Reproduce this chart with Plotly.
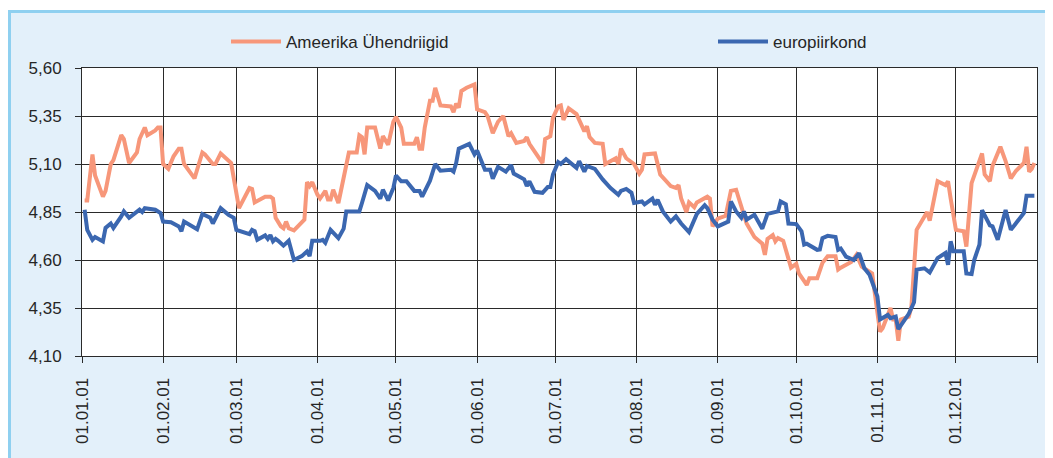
import pandas as pd
import plotly.graph_objects as go

# ---------------- data ----------------
start_date = "2001-01-01"

usa_days = [1, 2, 4, 5, 8, 9, 11, 12, 15, 16, 18, 20, 21, 22, 24, 25, 27, 28, 29, 30,
            31, 33, 35, 37, 38, 39, 43, 44, 46, 47, 50, 51, 53, 57, 58, 60, 64, 65, 66, 70,
            72, 73, 74, 76, 77, 78, 79, 81, 85, 86, 87, 88, 90, 91, 93, 94, 95, 96, 98, 101,
            102, 105, 106, 107, 108, 109, 112, 114, 115, 117, 119, 120, 122, 123, 127, 128, 129, 130, 131, 133,
            134, 135, 137, 141, 142, 143, 144, 145, 147, 150, 151, 154, 155, 157, 159, 161, 163, 164, 166, 169,
            170, 171, 173, 176, 177, 179, 180, 182, 183, 184, 186, 189, 192, 193, 194, 196, 199, 200, 204, 205,
            206, 208, 211, 213, 214, 215, 219, 221, 225, 227, 228, 229, 231, 232, 234, 235, 239, 240, 241, 243,
            246, 248, 250, 253, 254, 257, 260, 261, 262, 264, 265, 266, 268, 271, 273, 274, 277, 278, 281, 283,
            285, 288, 289, 290, 294, 296, 298, 302, 303, 305, 306, 309, 310, 311, 312, 313, 316, 317, 319, 323,
            324, 327, 330, 331, 332, 334, 337, 338, 340, 344, 345, 347, 348, 351, 353, 355, 357, 360, 361, 362,
            363, 364]
usa_values = [4.91, 4.91, 5.15, 5.04, 4.93, 4.96, 5.10, 5.12, 5.25, 5.23, 5.105, 5.14, 5.16, 5.23, 5.29, 5.25, 5.265, 5.275, 5.29, 5.29,
              5.10, 5.075, 5.14, 5.18, 5.18, 5.10, 5.025, 5.07, 5.16, 5.15, 5.10, 5.10, 5.155, 5.105, 5.03, 4.87, 4.975, 4.97, 4.90, 4.93,
              4.93, 4.92, 4.82, 4.775, 4.765, 4.80, 4.765, 4.754, 4.81, 5.005, 4.985, 5.005, 4.94, 4.92, 4.96, 4.915, 4.915, 4.966, 4.897, 5.105,
              5.16, 5.16, 5.25, 5.24, 5.15, 5.29, 5.29, 5.18, 5.245, 5.20, 5.32, 5.345, 5.29, 5.205, 5.205, 5.24, 5.18, 5.18, 5.29, 5.43,
              5.43, 5.497, 5.405, 5.40, 5.37, 5.414, 5.393, 5.48, 5.497, 5.515, 5.385, 5.37, 5.35, 5.26, 5.32, 5.35, 5.245, 5.26, 5.21, 5.22,
              5.24, 5.205, 5.165, 5.105, 5.23, 5.245, 5.34, 5.40, 5.405, 5.33, 5.39, 5.36, 5.27, 5.297, 5.24, 5.21, 5.205, 5.10, 5.13, 5.10,
              5.18, 5.13, 5.10, 5.05, 5.07, 5.15, 5.155, 5.045, 4.985, 4.975, 4.99, 4.92, 4.85, 4.90, 4.875, 4.90, 4.93, 4.92, 4.775, 4.815,
              4.83, 4.96, 4.966, 4.835, 4.79, 4.72, 4.685, 4.627, 4.71, 4.73, 4.697, 4.714, 4.70, 4.56, 4.58, 4.53, 4.47, 4.505, 4.505, 4.585,
              4.62, 4.62, 4.55, 4.56, 4.59, 4.627, 4.565, 4.53, 4.427, 4.227, 4.245, 4.35, 4.29, 4.29, 4.18, 4.29, 4.305, 4.357, 4.757, 4.85,
              4.805, 5.01, 4.99, 5.01, 4.92, 4.757, 4.75, 4.67, 5.00, 5.155, 5.045, 5.01, 5.09, 5.19, 5.115, 5.025, 5.065, 5.105, 5.19, 5.06,
              5.075, 5.105]

euro_days = [1, 2, 4, 5, 8, 9, 11, 12, 15, 16, 18, 22, 23, 24, 28, 30, 31, 34, 37, 38,
             39, 43, 44, 46, 49, 50, 53, 56, 58, 59, 61, 64, 65, 66, 67, 70, 71, 72, 73, 74,
             75, 77, 79, 81, 84, 86, 87, 88, 91, 92, 93, 95, 98, 100, 101, 106, 107, 109, 112, 114,
             115, 116, 117, 119, 120, 122, 124, 127, 129, 130, 133, 135, 137, 141, 142, 143, 144, 148, 150, 151,
             154, 156, 157, 159, 162, 164, 165, 169, 170, 171, 173, 176, 178, 179, 180, 182, 183, 185, 187, 189,
             190, 192, 193, 196, 199, 202, 205, 206, 208, 210, 211, 214, 215, 218, 219, 220, 222, 225, 227, 229,
             232, 235, 238, 239, 241, 243, 247, 248, 250, 252, 253, 254, 257, 260, 262, 266, 267, 269, 270, 273,
             275, 276, 277, 281, 282, 283, 285, 288, 289, 290, 292, 295, 297, 299, 301, 303, 304, 305, 308, 309,
             311, 312, 316, 318, 319, 322, 324, 327, 330, 331, 332, 333, 337, 338, 340, 341, 343, 344, 347, 348,
             350, 353, 355, 360, 361, 364]
euro_values = [4.862, 4.757, 4.705, 4.72, 4.697, 4.767, 4.79, 4.767, 4.827, 4.853, 4.82, 4.862, 4.85, 4.87, 4.862, 4.845, 4.80, 4.797, 4.775, 4.75,
               4.80, 4.763, 4.76, 4.84, 4.82, 4.79, 4.87, 4.835, 4.82, 4.757, 4.75, 4.735, 4.757, 4.75, 4.705, 4.728, 4.71, 4.73, 4.697, 4.71,
               4.70, 4.675, 4.70, 4.60, 4.62, 4.645, 4.62, 4.70, 4.70, 4.705, 4.69, 4.757, 4.714, 4.763, 4.853, 4.853, 4.897, 4.99, 4.96, 4.92,
               4.966, 4.94, 4.91, 4.975, 5.04, 5.01, 5.01, 4.96, 4.96, 4.93, 5.013, 5.10, 5.065, 5.07, 5.06, 5.105, 5.18, 5.205, 5.15, 5.17,
               5.07, 5.07, 5.024, 5.085, 5.06, 5.095, 5.05, 5.02, 4.985, 5.01, 4.955, 4.95, 4.98, 4.98, 5.045, 5.11, 5.10, 5.125, 5.10, 5.08,
               5.115, 5.06, 5.09, 5.075, 5.02, 4.975, 4.94, 4.96, 4.97, 4.95, 4.897, 4.905, 4.89, 4.92, 4.888, 4.914, 4.853, 4.80, 4.827, 4.79,
               4.745, 4.84, 4.885, 4.87, 4.81, 4.775, 4.80, 4.905, 4.853, 4.82, 4.853, 4.81, 4.835, 4.763, 4.84, 4.853, 4.905, 4.89, 4.79, 4.787,
               4.75, 4.68, 4.685, 4.653, 4.655, 4.714, 4.726, 4.72, 4.653, 4.66, 4.618, 4.60, 4.636, 4.557, 4.523, 4.453, 4.41, 4.29, 4.314, 4.297,
               4.305, 4.24, 4.32, 4.38, 4.55, 4.557, 4.535, 4.61, 4.636, 4.575, 4.697, 4.645, 4.645, 4.53, 4.527, 4.60, 4.68, 4.86, 4.78, 4.775,
               4.705, 4.86, 4.757, 4.845, 4.935, 4.935]

series_names = ["Ameerika Ühendriigid", "europiirkond"]
series_colors = ["#F7977A", "#3B67B0"]

month_ticks = ["2001-01-01", "2001-02-01", "2001-03-01", "2001-04-01", "2001-05-01", "2001-06-01",
               "2001-07-01", "2001-08-01", "2001-09-01", "2001-10-01", "2001-11-01", "2001-12-01",
               "2002-01-01"]
month_labels = ["01.01.01", "01.02.01", "01.03.01", "01.04.01", "01.05.01", "01.06.01",
                "01.07.01", "01.08.01", "01.09.01", "01.10.01", "01.11.01", "01.12.01", ""]
y_ticks = [4.10, 4.35, 4.60, 4.85, 5.10, 5.35, 5.60]
y_labels = ["4,10", "4,35", "4,60", "4,85", "5,10", "5,35", "5,60"]

# ---------------- figure ----------------
W, H = 1053, 458
ML, MT, PW, PH = 74, 60, 955, 288
MR, MB = W - ML - PW, H - MT - PH

def px(x):
    return (x - ML) / PW

def py(y):
    return (MT + PH - y) / PH

t0 = pd.Timestamp(start_date)
usa_dates = t0 + pd.to_timedelta(usa_days, unit="D")
euro_dates = t0 + pd.to_timedelta(euro_days, unit="D")

fig = go.Figure()
fig.add_trace(go.Scatter(x=usa_dates, y=usa_values, mode="lines", name=series_names[0],
                         line=dict(color=series_colors[0], width=4), legend="legend"))
fig.add_trace(go.Scatter(x=euro_dates, y=euro_values, mode="lines", name=series_names[1],
                         line=dict(color=series_colors[1], width=4), legend="legend2"))

font_family = "Liberation Sans, Arial, sans-serif"
text_color = "#262626"
grid_color = "#2a2a2a"

legend_common = dict(orientation="h", yanchor="middle", xanchor="left", itemwidth=50,
                     bgcolor="rgba(0,0,0,0)", font=dict(size=17, color=text_color))

fig.update_layout(
    width=W, height=H,
    margin=dict(l=ML, r=MR, t=MT, b=MB, pad=0),
    paper_bgcolor="#E3F0FA",
    plot_bgcolor="#FFFFFF",
    font=dict(family=font_family, size=17, color=text_color),
    showlegend=True,
    legend=dict(x=px(218), y=py(34), **legend_common),
    legend2=dict(x=px(705), y=py(34), **legend_common),
    xaxis=dict(type="date", range=["2001-01-01", "2002-01-01"],
               tickmode="array", tickvals=month_ticks, ticktext=month_labels,
               tickangle=-90, ticks="outside", ticklen=6, tickcolor=grid_color,
               showgrid=True, gridcolor=grid_color, gridwidth=1,
               showline=True, linecolor=grid_color, linewidth=1, mirror=True,
               zeroline=False, ticklabelstandoff=8,
               tickfont=dict(size=17, color=text_color)),
    yaxis=dict(range=[4.10, 5.60], tickmode="array", tickvals=y_ticks, ticktext=y_labels,
               ticks="outside", ticklen=6, tickcolor=grid_color,
               showgrid=True, gridcolor=grid_color, gridwidth=1,
               showline=True, linecolor=grid_color, linewidth=1, mirror=True,
               zeroline=False, ticklabelstandoff=10,
               tickfont=dict(size=17, color=text_color)),
)

# frame of the chart box: thin white strip on top, light blue border line top/left
border_color = "#8FD0F0"
fig.add_shape(type="rect", xref="paper", yref="paper", x0=px(-5), x1=px(W + 5), y0=py(2), y1=py(-5),
              fillcolor="#FFFFFF", line=dict(width=0), layer="above")
fig.add_shape(type="line", xref="paper", yref="paper", x0=px(0), x1=px(W + 5), y0=py(3.5), y1=py(3.5),
              line=dict(color=border_color, width=3), layer="above")
fig.add_shape(type="line", xref="paper", yref="paper", x0=px(1.5), x1=px(1.5), y0=py(2), y1=py(H + 5),
              line=dict(color=border_color, width=3), layer="above")

fig.write_html("out.html")
